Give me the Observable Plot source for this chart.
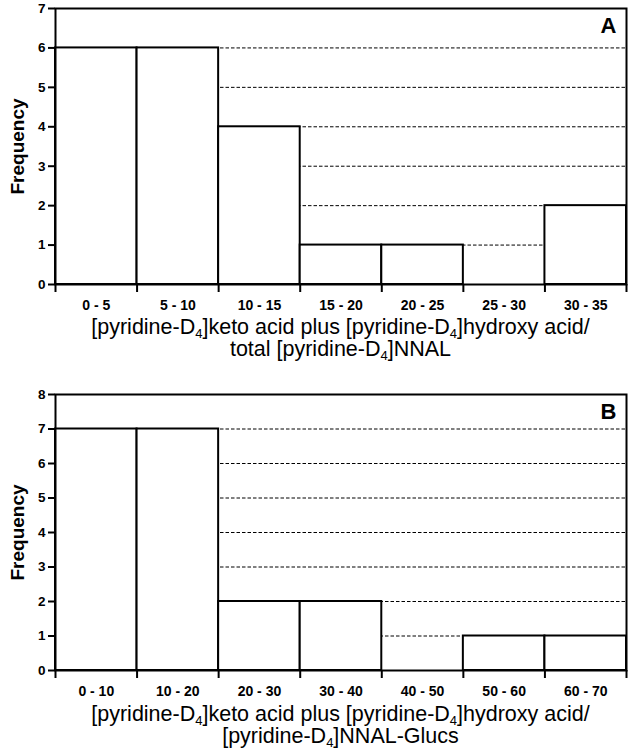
<!DOCTYPE html>
<html>
<head>
<meta charset="utf-8">
<script src="https://cdn.jsdelivr.net/npm/d3@7"></script>
<script src="https://cdn.jsdelivr.net/npm/@observablehq/plot@0.6"></script>
<style>
  html, body { margin: 0; padding: 0; background: #fff; }
  #root { position: relative; width: 641px; height: 753px; overflow: hidden; font-family: "Liberation Sans", Arial, sans-serif; color: #000; }
  .panel { position: absolute; left: 0; }
  .caption { position: absolute; left: 40px; width: 601px; text-align: center; font-size: 21.5px; line-height: 22px; color: #000; }
  .caption sub { font-size: 13px; line-height: 0; vertical-align: -4px; }
</style>
</head>
<body>
<div id="root">
  <div id="panelA" class="panel" style="top:0px"></div>
  <div class="caption" style="top:316px">[pyridine-D<sub>4</sub>]keto acid plus [pyridine-D<sub>4</sub>]hydroxy acid/<br>total [pyridine-D<sub>4</sub>]NNAL</div>
  <div id="panelB" class="panel" style="top:386px"></div>
  <div class="caption" style="top:703px">[pyridine-D<sub>4</sub>]keto acid plus [pyridine-D<sub>4</sub>]hydroxy acid/<br>[pyridine-D<sub>4</sub>]NNAL-Glucs</div>
</div>
<script>
// Panel A data
const binsA = ["0 - 5", "5 - 10", "10 - 15", "15 - 20", "20 - 25", "25 - 30", "30 - 35"];
const countsA = [6, 6, 4, 1, 1, 0, 2];
const yTicksA = [0, 1, 2, 3, 4, 5, 6, 7];
// Panel B data
const binsB = ["0 - 10", "10 - 20", "20 - 30", "30 - 40", "40 - 50", "50 - 60", "60 - 70"];
const countsB = [7, 7, 2, 2, 0, 1, 1];
const yTicksB = [0, 1, 2, 3, 4, 5, 6, 7, 8];

function panel(bins, counts, yTicks, letter) {
  const data = bins.map((b, i) => {
    const [lo, hi] = b.split(" - ").map(Number);
    return {label: b, lo, hi, mid: (lo + hi) / 2, count: counts[i]};
  });
  const edges = [data[0].lo, ...data.map(d => d.hi)];
  const yMax = yTicks[yTicks.length - 1];
  return Plot.plot({
    width: 641,
    height: 315,
    marginLeft: 55,
    marginRight: 15,
    marginTop: 8,
    marginBottom: 31,
    style: {fontFamily: "'Liberation Sans', Arial, sans-serif", color: "#000", background: "#fff"},
    x: {domain: [edges[0], edges[edges.length - 1]], axis: null},
    y: {domain: [0, yMax], axis: null},
    marks: [
      Plot.gridY(yTicks.filter(t => t > 0 && t < yMax), {stroke: "#000", strokeOpacity: 1, strokeWidth: 1, strokeDasharray: "3.5,2"}),
      Plot.rectY(data, {x1: "lo", x2: "hi", y: "count", fill: "#fff", stroke: "#000", strokeWidth: 2, inset: 0}),
      Plot.frame({stroke: "#000", strokeWidth: 2}),
      Plot.axisY(yTicks, {tickSize: 7, tickPadding: 3, strokeWidth: 2, tickFormat: () => "", label: null}),
      Plot.text(yTicks, {y: d => d, text: d => String(d), frameAnchor: "left", dx: -10, textAnchor: "end", lineAnchor: "middle", fontSize: 13.5, fontWeight: "bold", fill: "#000"}),
      Plot.axisX(edges, {tickSize: 8, tickFormat: () => "", strokeWidth: 2, label: null}),
      Plot.text(data, {x: "mid", text: "label", frameAnchor: "bottom", dy: 21, lineAnchor: "middle", fontSize: 14, fontWeight: "bold", fill: "#000"}),
      Plot.text(["Frequency"], {frameAnchor: "left", rotate: -90, dx: -38, fontSize: 19, fontWeight: "bold", textAnchor: "middle", lineAnchor: "middle", fill: "#000"}),
      Plot.text([letter], {frameAnchor: "top-right", dx: -10, dy: 9, fontSize: 22, fontWeight: "bold", textAnchor: "end", lineAnchor: "top", fill: "#000"})
    ]
  });
}

document.getElementById("panelA").append(panel(binsA, countsA, yTicksA, "A"));
document.getElementById("panelB").append(panel(binsB, countsB, yTicksB, "B"));
</script>
</body>
</html>
